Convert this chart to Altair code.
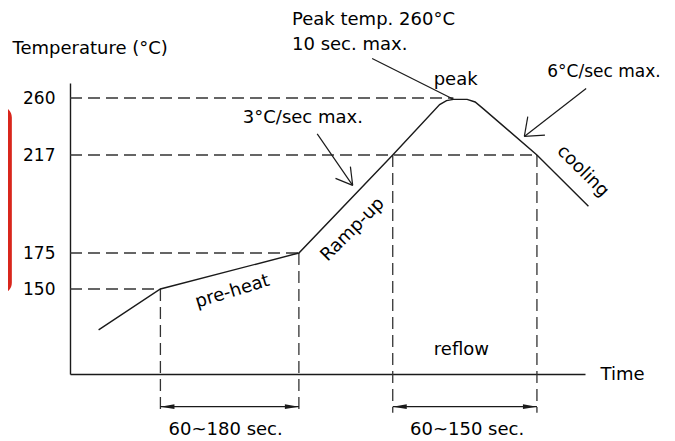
import altair as alt
import pandas as pd

# ---- data (time in s, temperature in °C, schematic) ----
profile_time = [25, 79, 200, 282, 323, 329, 335, 347, 354, 361, 408, 453]
profile_temp = [90, 150, 175, 217, 255, 258, 259, 259, 257, 252, 217, 195]

y_tick_values = [150, 175, 217, 260]

h_guide_temp = [150, 175, 217, 260]
h_guide_end = [79, 200, 408, 335]

v_guide_time = [79, 200, 282, 408]
v_guide_top = [150, 175, 217, 217]
v_guide_bottom = -32

dim_start = [79, 282]
dim_end = [200, 408]
dim_level = -23

# annotation lines (t, T) -> (t2, T2)
line_t = [264, 216, 247, 247, 451, 397, 397]
line_T = [289, 233, 204, 204, 267, 231, 231]
line_t2 = [335, 247, 232, 245, 397, 400, 415]
line_T2 = [259, 204, 207, 212, 231, 246, 232]

left_labels = ["Peak temp. 260°C", "10 sec. max.", "6°C/sec max.", "3°C/sec max."]
left_t = [194, 194, 417, 151]
left_T = [317, 299, 279, 245]
left_size = [18, 18, 17, 18]

center_labels = ["peak", "reflow", "pre-heat", "Ramp-up", "cooling", "60~180 sec.", "60~150 sec."]
center_t = [337, 342, 142, 247, 448, 136, 347]
center_T = [273, 60, 146, 185, 210, -57, -57]
center_angle = [0, 0, 343, 315, 45, 0, 0]

FONT = "DejaVu Sans"
FS = 18
INK = "#1a1a1a"

xs = alt.Scale(domain=[0, 450], range=[0, 515], zero=False, nice=False)
ys = alt.Scale(domain=[25, 150, 175, 217, 260, 271],
               range=[366, 281, 245, 147, 90, 75], zero=False, nice=False)

xaxis = alt.Axis(title="Time", labels=False, ticks=False, grid=False,
                 titleAngle=0, titleAlign="left", titleBaseline="middle",
                 titleX=530, titleY=0, titleFont=FONT, titleFontSize=FS,
                 titleFontWeight="normal", titleColor="#000",
                 domainColor=INK, domainWidth=1.4)
yaxis = alt.Axis(title="Temperature (°C)", values=y_tick_values, ticks=False, tickSize=0,
                 grid=False, labelPadding=15, labelFont=FONT, labelFontSize=17,
                 labelColor="#000", titleAngle=0, titleAlign="left",
                 titleBaseline="middle", titleX=-58, titleY=40, titleFont=FONT,
                 titleFontSize=FS, titleFontWeight="normal", titleColor="#000",
                 domainColor=INK, domainWidth=1.4)


def X(f):
    return alt.X(f + ":Q", scale=xs, axis=xaxis)


def Y(f):
    return alt.Y(f + ":Q", scale=ys, axis=yaxis)


profile = pd.DataFrame({"t": profile_time, "T": profile_temp})
hg = pd.DataFrame({"t": [0] * len(h_guide_temp), "t2": h_guide_end, "T": h_guide_temp})
vg = pd.DataFrame({"t": v_guide_time, "T": v_guide_top, "T2": [v_guide_bottom] * 4})
dims = pd.DataFrame({"t": dim_start, "t2": dim_end, "T": [dim_level] * 2})
ahl = pd.DataFrame({"t": dim_start, "T": [dim_level] * 2})
ahr = pd.DataFrame({"t": dim_end, "T": [dim_level] * 2})
lines = pd.DataFrame({"t": line_t, "T": line_T, "t2": line_t2, "T2": line_T2})
ltxt = pd.DataFrame({"t": left_t, "T": left_T, "label": left_labels, "fs": left_size})
ctxt = pd.DataFrame({"t": center_t, "T": center_T, "label": center_labels, "a": center_angle})
frame = pd.DataFrame({"t": [-87], "t2": [-53], "T": [252], "T2": [146]})

red = alt.Chart(frame).mark_rect(fillOpacity=0, stroke="#d9261c", strokeWidth=5,
                                 cornerRadius=9).encode(
    x=X("t"), x2="t2", y=Y("T"), y2="T2")

hrules = alt.Chart(hg).mark_rule(strokeDash=[12, 6], color="#333", strokeWidth=1.3).encode(
    x=X("t"), x2="t2", y=Y("T"))
vrules = alt.Chart(vg).mark_rule(strokeDash=[12, 6], color="#333", strokeWidth=1.3).encode(
    x=X("t"), y=Y("T"), y2="T2")

curve = alt.Chart(profile).mark_line(color=INK, strokeWidth=1.4).encode(
    x=X("t"), y=Y("T"), order="t:Q")

ann = alt.Chart(lines).mark_rule(color=INK, strokeWidth=1.2).encode(
    x=X("t"), y=Y("T"), x2="t2", y2="T2")

dimlines = alt.Chart(dims).mark_rule(color=INK, strokeWidth=1.2).encode(
    x=X("t"), x2="t2", y=Y("T"))
headl = alt.Chart(ahl).mark_point(shape="M0,0L2,-0.34L2,0.34Z", filled=True, size=196,
                                  color=INK, opacity=1).encode(x=X("t"), y=Y("T"))
headr = alt.Chart(ahr).mark_point(shape="M0,0L-2,-0.34L-2,0.34Z", filled=True, size=196,
                                  color=INK, opacity=1).encode(x=X("t"), y=Y("T"))

tl = alt.Chart(ltxt).mark_text(align="left", baseline="middle", font=FONT,
                               color="#000").encode(
    x=X("t"), y=Y("T"), text="label:N", size=alt.Size("fs:Q", scale=None, legend=None))
tc = alt.Chart(ctxt).mark_text(align="center", baseline="middle", font=FONT, fontSize=FS,
                               color="#000").encode(
    x=X("t"), y=Y("T"), text="label:N", angle=alt.Angle("a:Q", scale=None))

chart = alt.layer(red, hrules, vrules, curve, ann, dimlines, headl, headr, tl, tc).properties(
    width=515, height=366,
    autosize=alt.AutoSizeParams(type="none"),
    padding={"left": 62, "top": 0, "right": 82, "bottom": 67},
    background="white",
).configure_view(stroke=None)

chart.save("out.html", embed_options={"renderer": "svg", "actions": False})
